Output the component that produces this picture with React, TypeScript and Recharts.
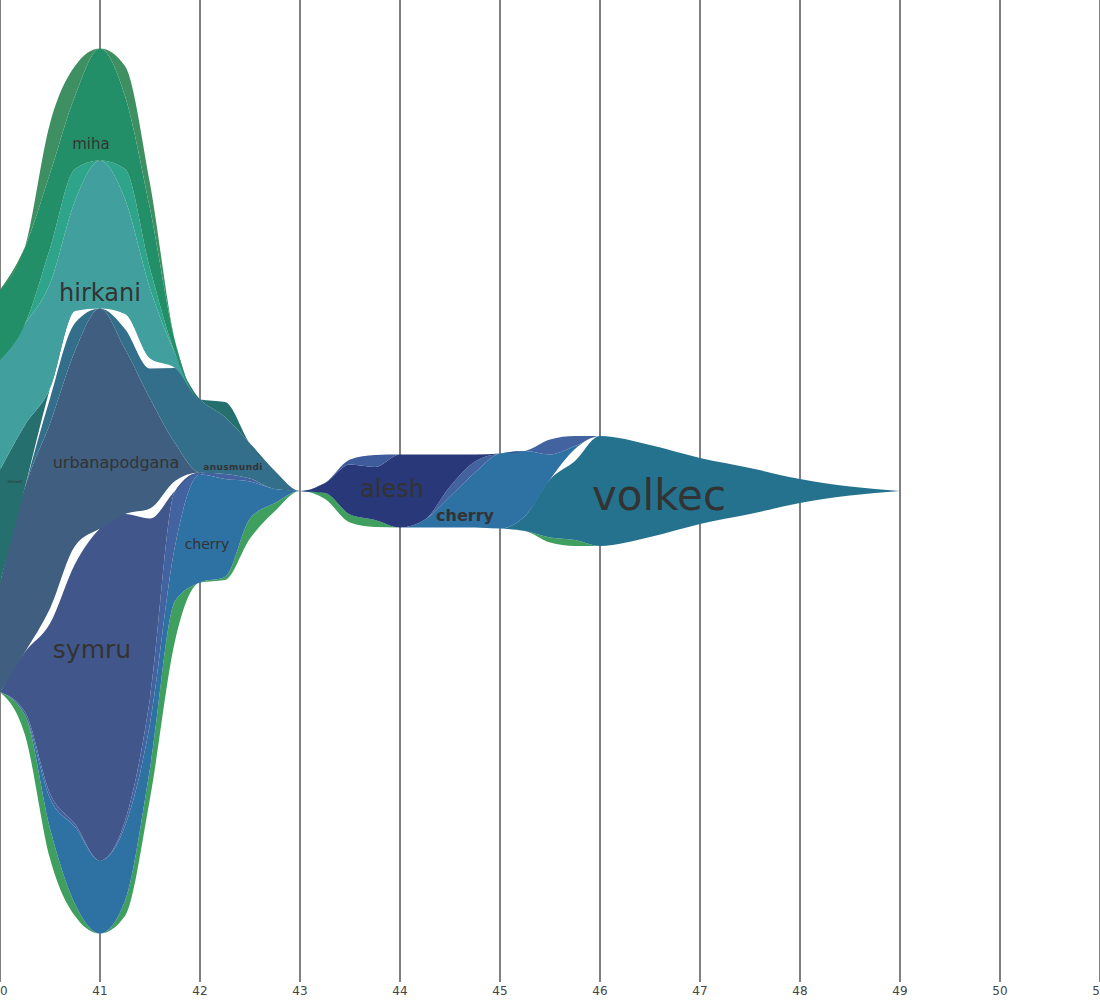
import { AreaChart, Area, XAxis, YAxis, CartesianGrid, ReferenceDot } from "recharts";

// time steps (quarter steps where the stream changes shape)
const steps = [40, 40.25, 40.5, 40.75, 41, 41.25, 41.5, 41.75, 42, 42.25, 42.5, 42.75, 43, 43.25, 43.5, 43.75, 44, 44.25, 44.5, 44.75, 45, 45.25, 45.5, 45.75, 46, 46.5, 47, 47.5, 48, 48.5, 49];
const xTicks = [40, 41, 42, 43, 44, 45, 46, 47, 48, 49, 50, 51];

// layer thickness per step, bottom of the stack first
const green = [0, 20, 30, 12, 0, 15, 30, 40, 0, 3, 20, 8, 0, 6, 8, 7, 0, 0, 0, 0, 0, 0, 5, 6, 0, 0, 0, 0, 0, 0, 0];
const volkec = [0, 0, 0, 0, 0, 0, 0, 0, 0, 0, 0, 0, 0, 0, 0, 0, 0, 0, 0, 0, 0, 15, 58, 79, 110, 92, 66, 46, 24, 9, 0];
const gapC = [0, 0, 0, 0, 0, 0, 0, 0, 0, 0, 0, 0, 0, 0, 0, 0, 0, 0, 0, 0, 0, 0, 0, 12, 0, 0, 0, 0, 0, 0, 0];
const cherry = [0, 0, 30, 77, 73, 75, 45, 55, 108, 98, 37, 14, 0, 0, 0, 0, 0, 8, 31, 55, 75, 65, 25, 3, 0, 0, 0, 0, 0, 0, 0];
const blueEdge = [0, 3, 5, 3, 0, 5, 25, 55, 2, 5, 3, 0, 0, 0, 0, 0, 0, 0, 10, 11, 0, 0, 15, 10, 0, 0, 0, 0, 0, 0, 0];
const symru = [0, 60, 170, 260, 332, 307, 180, 0, 0, 0, 0, 0, 0, 0, 0, 0, 0, 0, 0, 0, 0, 0, 0, 0, 0, 0, 0, 0, 0, 0, 0];
const gapB = [0, 0, 15, 18, 0, 0, 10, 10, 0, 0, 0, 0, 0, 0, 0, 0, 0, 0, 0, 0, 0, 0, 0, 0, 0, 0, 0, 0, 0, 0, 0];
const alesh = [0, 0, 0, 0, 0, 0, 0, 0, 0, 0, 0, 0, 0, 10, 50, 53, 73, 65, 32, 7, 0, 0, 0, 0, 0, 0, 0, 0, 0, 0, 0];
const aleshEdge = [0, 0, 0, 0, 0, 0, 0, 0, 0, 0, 0, 0, 0, 0, 5, 12, 0, 0, 0, 0, 0, 0, 0, 0, 0, 0, 0, 0, 0, 0, 0];
const urbanapodgana = [109, 165, 185, 195, 220, 165, 110, 38, 0, 0, 0, 0, 0, 0, 0, 0, 0, 0, 0, 0, 0, 0, 0, 0, 0, 0, 0, 0, 0, 0, 0];
const anusmundi = [0, 0, 25, 28, 0, 20, 30, 75, 73, 57, 35, 18, 0, 0, 0, 0, 0, 0, 0, 0, 0, 0, 0, 0, 0, 0, 0, 0, 0, 0, 0];
const gapA = [0, 0, 10, 12, 0, 15, 10, 0, 0, 0, 0, 0, 0, 0, 0, 0, 0, 0, 0, 0, 0, 0, 0, 0, 0, 0, 0, 0, 0, 0, 0];
const dekaelt = [113, 62, 0, 0, 0, 0, 0, 0, 0, 15, 0, 0, 0, 0, 0, 0, 0, 0, 0, 0, 0, 0, 0, 0, 0, 0, 0, 0, 0, 0, 0];
const hirkani = [110, 101, 105, 110, 148, 115, 70, 15, 0, 0, 0, 0, 0, 0, 0, 0, 0, 0, 0, 0, 0, 0, 0, 0, 0, 0, 0, 0, 0, 0, 0];
const hirkaniEdge = [0, 0, 35, 32, 0, 30, 20, 0, 0, 0, 0, 0, 0, 0, 0, 0, 0, 0, 0, 0, 0, 0, 0, 0, 0, 0, 0, 0, 0, 0, 0];
const miha = [70, 77, 75, 73, 112, 73, 60, 12, 0, 0, 0, 0, 0, 0, 0, 0, 0, 0, 0, 0, 0, 0, 0, 0, 0, 0, 0, 0, 0, 0, 0];
const mihaEdge = [0, 0, 50, 30, 0, 30, 25, 0, 0, 0, 0, 0, 0, 0, 0, 0, 0, 0, 0, 0, 0, 0, 0, 0, 0, 0, 0, 0, 0, 0, 0];

// stream labels, placed in data space (y = offset from the centre line)
const labelText = ["miha", "hirkani", "urbanapodgana", "symru", "cherry", "anusmundi", "dekaelt", "alesh", "cherry", "volkec"];
const labelX = [40.91, 41.0, 41.16, 40.92, 42.07, 42.33, 40.15, 43.92, 44.65, 46.59];
const labelY = [347, 198, 29, -158, -53, 24, 10, 2, -24, -4];

const layers = [
  { key: "green", values: green, fill: "#3e9f5e" },
  { key: "volkec", values: volkec, fill: "#24728d" },
  { key: "gapC", values: gapC, fill: "none" },
  { key: "cherry", values: cherry, fill: "#2e71a3" },
  { key: "blueEdge", values: blueEdge, fill: "#4263a0" },
  { key: "symru", values: symru, fill: "#41578c" },
  { key: "gapB", values: gapB, fill: "none" },
  { key: "alesh", values: alesh, fill: "#283878" },
  { key: "aleshEdge", values: aleshEdge, fill: "#3e5c9b" },
  { key: "urbanapodgana", values: urbanapodgana, fill: "#3f5e80" },
  { key: "anusmundi", values: anusmundi, fill: "#336e8a" },
  { key: "gapA", values: gapA, fill: "none" },
  { key: "dekaelt", values: dekaelt, fill: "#25706f" },
  { key: "hirkani", values: hirkani, fill: "#41a09e" },
  { key: "hirkaniEdge", values: hirkaniEdge, fill: "#2ea58a" },
  { key: "miha", values: miha, fill: "#238f69" },
  { key: "mihaEdge", values: mihaEdge, fill: "#3e8f62" },
];

const labelStyle = [
  { size: 15 }, { size: 24 }, { size: 16 }, { size: 25 }, { size: 14 },
  { size: 9, spacing: 0.4, weight: "bold" }, { size: 4 }, { size: 24 }, { size: 16, weight: "bold" }, { size: 42 },
];

const data = steps.map((x, i) => {
  const row: Record<string, number> = { x };
  layers.forEach((l) => { row[l.key] = l.values[i]; });
  return row;
});

export default function App() {
  return (
    <div style={{ position: "absolute", left: 0, top: 0, width: 1100, height: 1000, fontFamily: "DejaVu Sans" }}>
      <AreaChart width={1100} height={1000} data={data} stackOffset="silhouette" margin={{ top: 0, right: 0, bottom: 0, left: 0 }}>
        <CartesianGrid horizontal={false} stroke="#808080" strokeWidth={2} />
        <XAxis dataKey="x" type="number" domain={[40, 51]} ticks={xTicks} axisLine={false} tickLine={false}
          tickSize={0} tickMargin={4} height={18} tick={{ fontSize: 12, fill: "#444" }} interval={0} />
        <YAxis hide domain={[-491, 491]} allowDataOverflow />
        {layers.map((l) => (
          <Area key={l.key} dataKey={l.key} stackId="s" type="monotone" fill={l.fill} fillOpacity={1}
            stroke="none" dot={false} activeDot={false} isAnimationActive={false} />
        ))}
        {labelText.map((t, i) => (
          <ReferenceDot key={i} x={labelX[i]} y={labelY[i]} r={0} ifOverflow="visible"
            shape={(p: any) => (
              <text x={p.cx} y={p.cy} textAnchor="middle" dominantBaseline="central" fill="#333"
                fontSize={labelStyle[i].size} fontWeight={labelStyle[i].weight || "normal"}
                letterSpacing={labelStyle[i].spacing || 0}>
                {t}
              </text>
            )} />
        ))}
      </AreaChart>
    </div>
  );
}
